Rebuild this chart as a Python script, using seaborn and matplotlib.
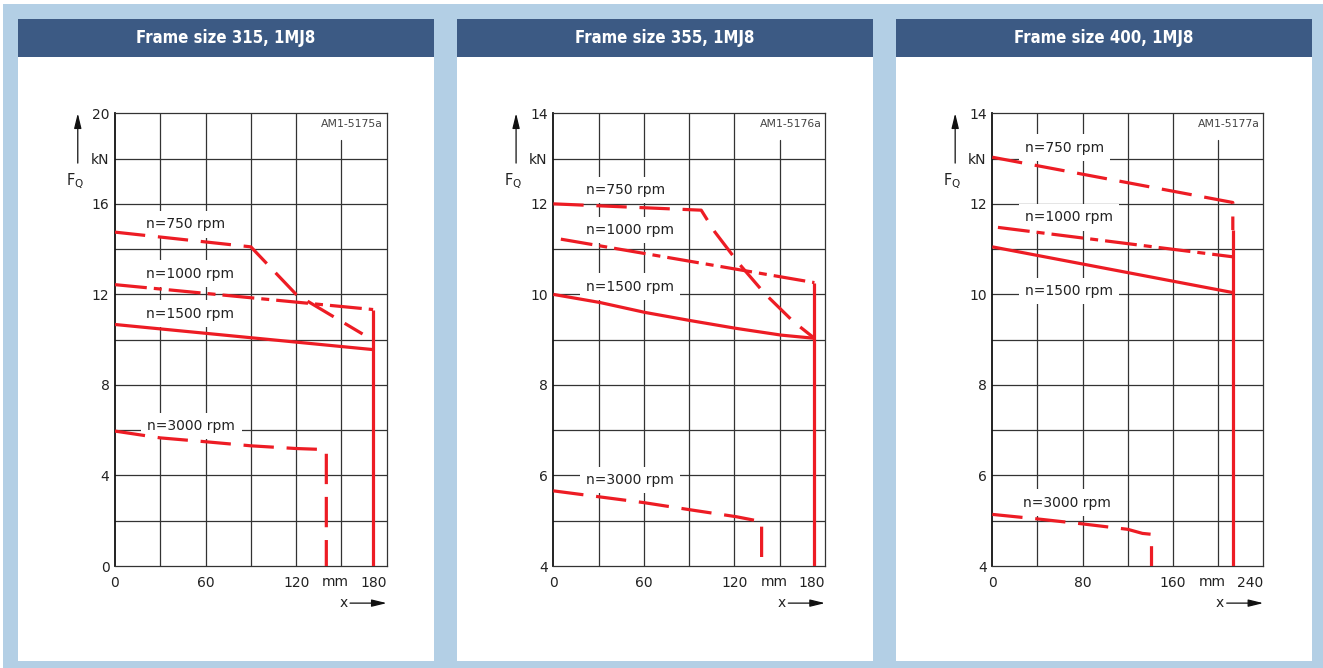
import pandas as pd
import matplotlib
matplotlib.use('Agg')
import matplotlib.pyplot as plt
import seaborn as sns
from matplotlib.patches import Rectangle

# ---------------------------------------------------------
# dados
# ---------------------------------------------------------
titles = ['Frame size 315, 1MJ8', 'Frame size 355, 1MJ8', 'Frame size 400, 1MJ8']
codes = ['AM1-5175a', 'AM1-5176a', 'AM1-5177a']
speeds = ['n=750 rpm', 'n=1000 rpm', 'n=1500 rpm', 'n=3000 rpm']

# frame size 315
x750_315 = [0, 90, 120, 164]
f750_315 = [14.75, 14.1, 12.0, 10.25]
x1000_315 = [0, 171]
f1000_315 = [12.43, 11.33]
x1500_315 = [0, 171]
f1500_315 = [10.67, 9.56]
x3000_315 = [0, 30, 60, 90, 120, 137, 140, 140]
f3000_315 = [5.96, 5.66, 5.49, 5.31, 5.19, 5.15, 5.1, 0]
xlim_315 = [171, 171]
flim_315 = [11.33, 0]

# frame size 355
x750_355 = [0, 98, 107, 123, 140, 159, 173]
f750_355 = [12.0, 11.86, 11.38, 10.68, 10.02, 9.40, 9.03]
x1000_355 = [5, 173]
f1000_355 = [11.22, 10.26]
x1500_355 = [0, 31, 61, 91, 121, 151, 173]
f1500_355 = [10.0, 9.82, 9.60, 9.42, 9.25, 9.10, 9.03]
x3000_355 = [0, 30, 60, 91, 121, 138, 138]
f3000_355 = [5.66, 5.53, 5.40, 5.24, 5.09, 4.98, 4.0]
xlim_355 = [173, 173]
flim_355 = [10.26, 4.0]

# frame size 400
x750_400 = [0, 213, 213]
f750_400 = [13.03, 12.03, 11.42]
x1000_400 = [5, 213]
f1000_400 = [11.48, 10.83]
x1500_400 = [0, 213]
f1500_400 = [11.05, 10.04]
x3000_400 = [0, 40, 80, 120, 133, 141, 141]
f3000_400 = [5.14, 5.04, 4.93, 4.81, 4.72, 4.7, 4.0]
xlim_400 = [213, 213]
flim_400 = [11.42, 4.0]

# eixos
xticks_180 = [0, 30, 60, 90, 120, 150, 180]
xlabels_180 = ['0', '', '60', '', '120', '', '180']
xticks_240 = [0, 40, 80, 120, 160, 200, 240]
xlabels_240 = ['0', '', '80', '', '160', '', '240']
yticks_20 = [0, 2, 4, 6, 8, 10, 12, 14, 16, 18, 20]
ylabels_20 = ['0', '', '4', '', '8', '', '12', '', '16', 'kN', '20']
yticks_14 = [4, 5, 6, 7, 8, 9, 10, 11, 12, 13, 14]
ylabels_14 = ['4', '', '6', '', '8', '', '10', '', '12', 'kN', '14']

# ---------------------------------------------------------
# layout (pixels)
# ---------------------------------------------------------
W, H = 1323, 668
RED = '#ed1c24'
GRID = '#333333'
LIGHT = '#b3cfe5'
DARK = '#3c5a84'

# padrões de traço (em unidades de espessura da linha)
dash_map = {'750': (9.5, 4), '1000': (10, 2.2, 2.5, 2.2), '1500': '', '3000': (9.5, 4), 'limit': ''}

paineis = [
    dict(series=[(x750_315, f750_315), (x1000_315, f1000_315), (x1500_315, f1500_315),
                 (x3000_315, f3000_315), (xlim_315, flim_315)],
         xt=xticks_180, xl=xlabels_180, yt=yticks_20, yl=ylabels_20,
         box=(17.5, 434), ax_px=(115, 386.7),
         lab_x=[20.5, 20.5, 20.5, 21.5], lab_y=[15.09, 12.92, 11.15, 6.18]),
    dict(series=[(x750_355, f750_355), (x1000_355, f1000_355), (x1500_355, f1500_355),
                 (x3000_355, f3000_355), (xlim_355, flim_355)],
         xt=xticks_180, xl=xlabels_180, yt=yticks_14, yl=ylabels_14,
         box=(457, 873), ax_px=(553.3, 825),
         lab_x=[21.7, 21.7, 21.7, 21.7], lab_y=[12.31, 11.42, 10.17, 5.90]),
    dict(series=[(x750_400, f750_400), (x1000_400, f1000_400), (x1500_400, f1500_400),
                 (x3000_400, f3000_400), (xlim_400, flim_400)],
         xt=xticks_240, xl=xlabels_240, yt=yticks_14, yl=ylabels_14,
         box=(896, 1312.3), ax_px=(992.3, 1263.3),
         lab_x=[29, 29, 29, 27.5], lab_y=[13.24, 11.70, 10.08, 5.40]),
]

sns.set_style('white')
plt.rcParams['font.family'] = ['DejaVu Sans']
plt.rcParams['mathtext.default'] = 'regular'

fig = plt.figure(figsize=(W / 100, H / 100), dpi=100)
fig.patch.set_facecolor('white')


def fig_rect(x0, y0, x1, y1, color):
    fig.patches.append(Rectangle((x0 / W, 1 - y1 / H), (x1 - x0) / W, (y1 - y0) / H,
                                 transform=fig.transFigure, facecolor=color,
                                 edgecolor='none', zorder=-5))


fig_rect(3, 4, W, H, LIGHT)

AX_TOP, AX_BOT = 113.3, 566
nomes = ['750', '1000', '1500', '3000', 'limit']

for i, p in enumerate(paineis):
    b0, b1 = p['box']
    fig_rect(b0, 57, b1, 661, 'white')
    fig_rect(b0, 19, b1, 57, DARK)
    fig.text((b0 + b1) / 2 / W, 1 - 38 / H, titles[i], color='white', fontsize=12,
             fontweight='bold', fontstretch='condensed', ha='center', va='center')

    a0, a1 = p['ax_px']
    ax = fig.add_axes([a0 / W, 1 - AX_BOT / H, (a1 - a0) / W, (AX_BOT - AX_TOP) / H])
    ax.set_zorder(5)
    ax.set_facecolor('none')

    linhas = []
    for nome, (xs, fs) in zip(nomes, p['series']):
        linhas.append(pd.DataFrame({'x': xs, 'F': fs, 'serie': nome}))
    df = pd.concat(linhas, ignore_index=True)

    sns.lineplot(data=df, x='x', y='F', style='serie', style_order=nomes, dashes=dash_map,
                 estimator=None, sort=False, color=RED, lw=2.3, legend=False, ax=ax, zorder=3)
    for ln in ax.lines:
        ln.set_solid_capstyle('butt')
        ln.set_dash_capstyle('butt')

    xt, yt = p['xt'], p['yt']
    ax.set_xlim(xt[0], xt[-1])
    ax.set_ylim(yt[0], yt[-1])
    ax.set_xticks(xt)
    ax.set_xticklabels(p['xl'])
    ax.set_yticks(yt)
    ax.set_yticklabels(p['yl'])
    ax.get_xticklabels()[-1].set_ha('right')
    ax.tick_params(length=0, labelsize=10, colors='#222222')
    ax.tick_params(axis='x', pad=7)
    ax.tick_params(axis='y', pad=4)
    ax.set_xlabel('')
    ax.set_ylabel('')

    # grade
    for yv in yt[1:-1]:
        ax.axhline(yv, color=GRID, lw=0.9, zorder=1)
    for j, xv in enumerate(xt[1:-1]):
        ymax = 0.94 if j == len(xt) - 3 else 1
        ax.axvline(xv, ymax=ymax, color=GRID, lw=0.9, zorder=1)
    for s in ax.spines.values():
        s.set_visible(True)
        s.set_color(GRID)
        s.set_linewidth(0.9)
    ax.spines['left'].set_color('#111111')
    ax.spines['left'].set_linewidth(1.3)

    # rótulos das curvas
    for txt, lx, ly in zip(speeds, p['lab_x'], p['lab_y']):
        ax.text(lx, ly, txt, fontsize=10, color='#222222', ha='left', va='center', zorder=2,
                bbox=dict(boxstyle='square,pad=0.45', fc='white', ec='none'))

    ax.text(0.987, 0.976, codes[i], transform=ax.transAxes, fontsize=7.8, color='#444444',
            ha='right', va='center')
    ax.text(0.812, -0.035, 'mm', transform=ax.transAxes, fontsize=10, color='#222222',
            ha='center', va='center')
    ax.text(0.84, -0.082, 'x', transform=ax.transAxes, fontsize=10, color='#222222',
            ha='center', va='center')
    ax.annotate('', xy=(1.0, -0.082), xytext=(0.865, -0.082), xycoords='axes fraction',
                arrowprops=dict(arrowstyle='-|>,head_length=0.9,head_width=0.22',
                                color='#111111', lw=0.9, shrinkA=0, shrinkB=0),
                annotation_clip=False)
    ax.annotate('', xy=(-0.137, 1.0), xytext=(-0.137, 0.89), xycoords='axes fraction',
                arrowprops=dict(arrowstyle='-|>,head_length=0.9,head_width=0.22',
                                color='#111111', lw=0.9, shrinkA=0, shrinkB=0),
                annotation_clip=False)
    ax.text(-0.147, 0.849, r'F$_{Q}$', transform=ax.transAxes, fontsize=10.5,
            color='#222222', ha='center', va='center')

fig.savefig('out.png', dpi=100)
